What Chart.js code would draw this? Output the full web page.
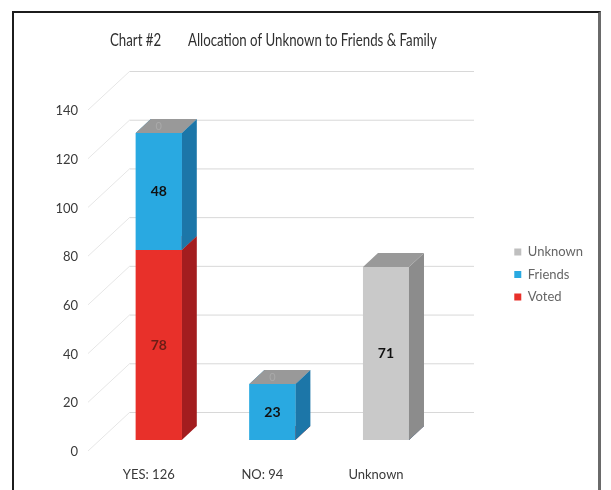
<!DOCTYPE html>
<html>
<head>
<meta charset="utf-8">
<script src="https://cdn.jsdelivr.net/npm/chart.js@4.4.1/dist/chart.umd.min.js"></script>
<style>
  html, body { margin: 0; padding: 0; background: #fff; }
  #frame {
    position: absolute; left: 12px; top: 11px; width: 584px; height: 500px;
    border-top: 2px solid #1c1c1c; border-left: 2px solid #1c1c1c; border-right: 3px solid #6a6a6a;
    background: #fff;
  }
  #chart { position: absolute; left: 0; top: 0; }
</style>
</head>
<body>
<div id="frame"></div>
<canvas id="chart" width="611" height="490"></canvas>
<script>
'use strict';

const FONT = 'Lato, "Liberation Sans", sans-serif';

const categories = ['YES: 126', 'NO: 94', 'Unknown'];
const voted   = [78, 0, 0];
const friends = [48, 23, 0];
const unknown = [0, 0, 71];
const yTicks  = { min: 0, max: 140, step: 20 };

// face colours: front / side / top
const COLORS = {
  voted:   { front: '#e8302a', side: '#a31d1f', top: '#c4241f', label: '#6b1d16' },
  friends: { front: '#29a9e1', side: '#1c76a8', top: '#1f8cc4', label: '#111111' },
  unknown: { front: '#c9c9c9', side: '#8c8c8c', top: '#999999', label: '#111111' },
};

const DEPTH = { dx: 15, dy: 14 };

function poly(ctx, pts, fill) {
  ctx.beginPath();
  ctx.moveTo(pts[0][0], pts[0][1]);
  for (let i = 1; i < pts.length; i++) ctx.lineTo(pts[i][0], pts[i][1]);
  ctx.closePath();
  ctx.fillStyle = fill;
  ctx.fill();
}

// back wall gridlines with the floor diagonals
const wallPlugin = {
  id: 'wall',
  beforeDatasetsDraw(chart) {
    const ctx = chart.ctx;
    const ys = chart.scales.y;
    ctx.save();
    ctx.lineWidth = 1;
    ys.ticks.forEach(t => {
      const yl = ys.getPixelForValue(t.value) + 11;
      ctx.strokeStyle = '#e6e6e6';
      ctx.beginPath(); ctx.moveTo(88, yl); ctx.lineTo(130, yl - 39); ctx.stroke();
      ctx.strokeStyle = '#d8d8d8';
      ctx.beginPath(); ctx.moveTo(130, yl - 39 + 0.5); ctx.lineTo(474, yl - 39 + 0.5); ctx.stroke();
    });
    ctx.restore();
  }
};

// side and top faces, then the front again so stacking overlaps right
const boxPlugin = {
  id: 'box3d',
  afterDatasetsDraw(chart) {
    const ctx = chart.ctx;
    const { dx, dy } = DEPTH;
    ctx.save();
    chart.data.datasets.forEach((ds, i) => {
      const c = ds.faces;
      chart.getDatasetMeta(i).data.forEach(bar => {
        const { x, y, base, width } = bar.getProps(['x', 'y', 'base', 'width'], true);
        const l = x - width / 2, r = x + width / 2;
        poly(ctx, [[r, y], [r + dx, y - dy], [r + dx, base - dy], [r, base]], c.side);
        poly(ctx, [[l, y], [l + dx, y - dy], [r + dx, y - dy], [r, y]], c.top);
        bar.draw(ctx);
      });
    });
    ctx.restore();
  },
  afterDraw(chart) {
    const ctx = chart.ctx;
    const n = chart.data.datasets.length;
    ctx.save();
    ctx.textAlign = 'center';
    ctx.textBaseline = 'middle';
    chart.data.datasets.forEach((ds, i) => {
      chart.getDatasetMeta(i).data.forEach((bar, j) => {
        const v = ds.data[j];
        const { x, y, base } = bar.getProps(['x', 'y', 'base'], true);
        if (v > 0) {
          ctx.font = 'bold 14px ' + FONT;
          ctx.fillStyle = ds.faces.label;
          ctx.fillText(String(v), x, (y + base) / 2);
        } else if (i === n - 1) {
          ctx.font = '11px ' + FONT;
          ctx.fillStyle = '#a9a9a9';
          ctx.fillText('0', x, y - DEPTH.dy / 2);
        }
      });
    });
    // title, condensed a little like the original narrow face
    const sx = 0.78;
    ctx.textAlign = 'left';
    ctx.font = '17px ' + FONT;
    ctx.fillStyle = '#2f2f2f';
    ctx.scale(sx, 1);
    ctx.fillText('Chart #2', 110 / sx, 41);
    ctx.fillText('Allocation of Unknown to Friends & Family', 188 / sx, 41);
    ctx.restore();
  }
};

function dataset(label, data, faces) {
  return {
    label, data, faces,
    backgroundColor: faces.front,
    borderWidth: 0,
    categoryPercentage: 1,
    barPercentage: 0.405,
  };
}

new Chart(document.getElementById('chart'), {
  type: 'bar',
  data: {
    labels: categories,
    datasets: [
      dataset('Voted', voted, COLORS.voted),
      dataset('Friends', friends, COLORS.friends),
      dataset('Unknown', unknown, COLORS.unknown),
    ],
  },
  options: {
    responsive: false,
    animation: false,
    layout: { padding: { left: 20, right: 18, top: 99, bottom: 0 } },
    plugins: {
      legend: {
        position: 'right',
        fullSize: false,
        reverse: true,
        // empty title only nudges the items down a few pixels
        title: { display: true, text: ' ', font: { size: 5 }, padding: { top: 2, bottom: 2 } },
        labels: {
          boxWidth: 7, boxHeight: 7, padding: 9.5,
          color: '#3a3a3a',
          font: { family: FONT, size: 13 },
          generateLabels(chart) {
            return chart.data.datasets.map((ds, i) => ({
              text: ds.label,
              fillStyle: i === 2 ? '#bfbfbf' : ds.faces.front,
              strokeStyle: 'rgba(0,0,0,0)',
              lineWidth: 0,
              datasetIndex: i,
            }));
          },
        },
      },
      tooltip: { enabled: false },
    },
    scales: {
      x: {
        stacked: true,
        grid: { display: false, drawTicks: false },
        border: { display: false },
        ticks: { padding: 27, labelOffset: -10, color: '#3a3a3a', font: { family: FONT, size: 13 } },
        afterFit(s) { s.height = 50; },
      },
      y: {
        stacked: true,
        min: yTicks.min, max: yTicks.max,
        grid: { display: false, drawTicks: false },
        border: { display: false },
        ticks: { stepSize: yTicks.step, padding: 24, labelOffset: 12, color: '#3a3a3a', font: { family: FONT, size: 13 } },
        afterFit(s) { s.width = 82; },
      },
      gap: {
        type: 'linear',
        position: 'right',
        grid: { display: false, drawTicks: false },
        border: { display: false },
        ticks: { display: false },
        afterFit(s) { s.width = 62; },
      },
    },
  },
  plugins: [wallPlugin, boxPlugin],
});
</script>
</body>
</html>
